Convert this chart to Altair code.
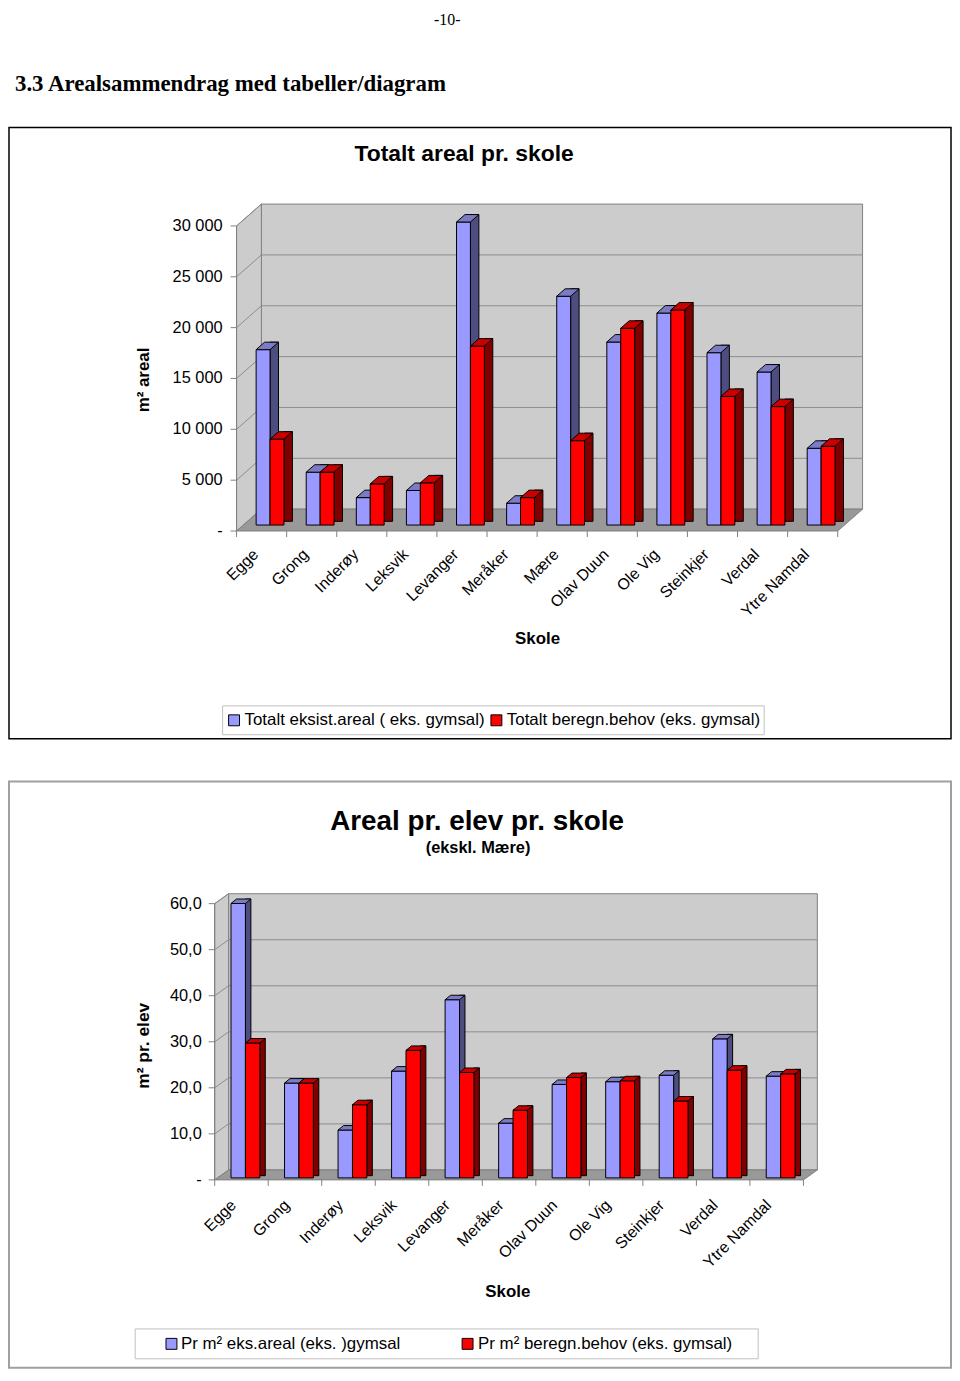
import altair as alt
import pandas as pd

# ---------------- data ----------------
schools_1 = ["Egge", "Grong", "Inderøy", "Leksvik", "Levanger", "Meråker", "Mære",
             "Olav Duun", "Ole Vig", "Steinkjer", "Verdal", "Ytre Namdal"]
eksist_areal = [17250, 5200, 2700, 3400, 29800, 2150, 22500, 18000, 20850, 16950, 15050, 7550]
beregn_behov = [8450, 5200, 4050, 4150, 17600, 2700, 8300, 19350, 21150, 12650, 11650, 7750]
ticks_1 = [0, 5000, 10000, 15000, 20000, 25000, 30000]
tick_labels_1 = ["-", "5 000", "10 000", "15 000", "20 000", "25 000", "30 000"]
series_1 = ["Totalt eksist.areal ( eks. gymsal)", "Totalt beregn.behov (eks. gymsal)"]

schools_2 = ["Egge", "Grong", "Inderøy", "Leksvik", "Levanger", "Meråker",
             "Olav Duun", "Ole Vig", "Steinkjer", "Verdal", "Ytre Namdal"]
pr_elev_eksist = [59.6, 20.6, 10.4, 23.2, 38.7, 11.9, 20.3, 20.9, 22.3, 30.2, 22.1]
pr_elev_behov = [29.3, 20.6, 15.9, 27.7, 22.9, 14.7, 21.8, 21.1, 16.7, 23.4, 22.6]
ticks_2 = [0, 10, 20, 30, 40, 50, 60]
tick_labels_2 = ["-", "10,0", "20,0", "30,0", "40,0", "50,0", "60,0"]
series_2 = ["Pr m² eks.areal (eks. )gymsal", "Pr m² beregn.behov (eks. gymsal)"]

page_number = "-10-"
heading = "3.3 Arealsammendrag med tabeller/diagram"

# ---------------- style ----------------
FONT = "Liberation Sans"
SERIF = "Liberation Serif"
BLUE = dict(front="#9999FF", side="#4D4D80", top="#7B7BC6")
RED = dict(front="#FF0000", side="#800000", top="#C80000")
WALL = "#CCCCCC"
FLOOR = "#999999"
EDGE = "#808080"
GRID = "#8C8C8C"
AXIS = "#808080"
PAGE_W = 950


def txt(s, x, y, size, bold=False, angle=0, align="center", font=FONT):
    return alt.Chart(pd.DataFrame({"t": [s]})).mark_text(
        fontSize=size, fontWeight="bold" if bold else "normal", angle=angle,
        align=align, baseline="middle", font=font, color="black"
    ).encode(x=alt.value(x), y=alt.value(y), text="t:N")


def box(x0, y0, x1, y1, fill, stroke, sw):
    return alt.Chart(pd.DataFrame({"k": [0]})).mark_rect(
        fill=fill, stroke=stroke, strokeWidth=sw
    ).encode(x=alt.value(x0), x2=alt.value(x1), y=alt.value(y0), y2=alt.value(y1))


def panel(schools, v1, v2, ticks, tick_labels, series, g):
    df = pd.DataFrame({"school": schools, "a": v1, "b": v2, "zero": [0] * len(schools)})
    tick_df = pd.DataFrame({"v": ticks, "label": tick_labels})
    wall = pd.DataFrame({"lo": [0], "hi": [ticks[-1]]})
    x0, x1, yb, yt = g["x0"], g["x1"], g["yb"], g["yt"]
    wdx, wdy = g["wdx"], g["wdy"]
    W, H = x1 - x0, yb - yt
    xs = alt.Scale(domain=schools, range=[x0, x1], paddingInner=0, paddingOuter=0)
    ys = alt.Scale(domain=[0, ticks[-1]], range=[yb, yt], nice=False, zero=False)
    X = alt.X("school:N", scale=xs, axis=None)

    def Y(f):
        return alt.Y(f, scale=ys, axis=None)

    layers = []
    layers.append(box(*g["box"], "white", g["box_stroke"], g["box_sw"]))
    # back wall
    layers.append(alt.Chart(wall).mark_rect(fill=WALL, stroke=EDGE, strokeWidth=1,
                                            yOffset=wdy, y2Offset=wdy).encode(
        x=alt.value(x0 + wdx), x2=alt.value(x1 + wdx), y=Y("hi:Q"), y2="lo:Q"))
    # left wall
    layers.append(alt.Chart(wall).mark_point(
        shape=f"M0,0 L0,{-H} L{wdx},{-H + wdy} L{wdx},{wdy} Z", size=4, filled=True,
        fill=WALL, stroke=EDGE, strokeWidth=1, opacity=1).encode(
        x=alt.value(x0), y=Y("lo:Q")))
    # floor
    layers.append(alt.Chart(wall).mark_point(
        shape=f"M0,0 L{W},0 L{W + wdx},{wdy} L{wdx},{wdy} Z", size=4, filled=True,
        fill=FLOOR, stroke=EDGE, strokeWidth=1, opacity=1).encode(
        x=alt.value(x0), y=Y("lo:Q")))
    # gridlines
    layers.append(alt.Chart(tick_df[(tick_df.v > 0) & (tick_df.v < ticks[-1])]).mark_rule(
        color=GRID, strokeWidth=1, yOffset=wdy).encode(
        x=alt.value(x0 + wdx), x2=alt.value(x1 + wdx), y=Y("v:Q")))
    layers.append(alt.Chart(tick_df[tick_df.v > 0]).mark_rule(
        color=GRID, strokeWidth=1, y2Offset=wdy).encode(
        x=alt.value(x0), x2=alt.value(x0 + wdx), y=Y("v:Q"), y2="v:Q"))
    # front axes
    layers.append(alt.Chart(wall).mark_rule(color=AXIS, strokeWidth=1).encode(
        x=alt.value(x0), y=Y("hi:Q"), y2="lo:Q"))
    layers.append(alt.Chart(tick_df).mark_rule(color=AXIS, strokeWidth=1).encode(
        x=alt.value(x0 - 6), x2=alt.value(x0), y=Y("v:Q")))
    layers.append(alt.Chart(tick_df).mark_text(
        align="right", baseline="middle", fontSize=g["tick_fs"], font=FONT, color="black").encode(
        x=alt.value(g["ylab_x"]), y=Y("v:Q"), text="label:N"))
    layers.append(alt.Chart(df).mark_rule(color=AXIS, strokeWidth=1).encode(
        x=alt.X("school:N", scale=xs, axis=None, bandPosition=0),
        y=alt.value(yb), y2=alt.value(yb + 6)))
    layers.append(alt.Chart(df.tail(1)).mark_rule(color=AXIS, strokeWidth=1).encode(
        x=alt.X("school:N", scale=xs, axis=None, bandPosition=1),
        y=alt.value(yb), y2=alt.value(yb + 6)))
    layers.append(alt.Chart(df).mark_text(
        angle=315, align="right", baseline="middle", fontSize=g["xlab_fs"], font=FONT,
        color="black", xOffset=g["xlab_dx"]).encode(
        x=X, y=alt.value(g["xlab_y"]), text="school:N"))

    # 3D bars
    gx, fs, bw, bdx, bdy = g["gx"], g["fs"], g["bw"], g["bdx"], g["bdy"]
    top_path = f"M0,0 L{bw},0 L{bw + bdx},{bdy} L{bdx},{bdy} Z"
    for field, col, left in (("a", BLUE, gx - bw), ("b", RED, gx)):
        layers.append(alt.Chart(df).mark_bar(
            width=bdx, fill=col["side"], stroke="black", strokeWidth=1,
            xOffset=left + bw + bdx / 2, yOffset=-fs + bdy, y2Offset=-fs + bdy / 2).encode(
            x=X, y=Y(f"{field}:Q"), y2="zero:Q"))
        layers.append(alt.Chart(df).mark_bar(
            width=bw, fill=col["front"], stroke="black", strokeWidth=1,
            xOffset=left + bw / 2, yOffset=-fs, y2Offset=-fs).encode(
            x=X, y=Y(f"{field}:Q"), y2="zero:Q"))
        layers.append(alt.Chart(df).mark_point(
            shape=top_path, size=4, filled=True, fill=col["top"], stroke="black",
            strokeWidth=1, opacity=1, xOffset=left, yOffset=-fs).encode(
            x=X, y=Y(f"{field}:Q")))

    # titles
    for t in g["texts"]:
        layers.append(txt(*t))
    # legend
    lx0, ly0, lx1, ly1 = g["legend_box"]
    layers.append(box(lx0, ly0, lx1, ly1, "white", "#C0C0C0", 1))
    for (sx, tx), col, name in zip(g["legend_items"], (BLUE, RED), series):
        cy = (ly0 + ly1) / 2
        layers.append(box(sx, cy - 5.5, sx + 11, cy + 5.5, col["front"], "black", 1))
        layers.append(txt(name, tx, cy, g["legend_fs"], align="left"))
    return alt.layer(*layers).properties(width=PAGE_W, height=g["height"])


# ---------------- header ----------------
header = alt.layer(
    txt(page_number, 442, 8, 16, font=SERIF),
    txt(heading, 7, 72, 23, bold=True, align="left", font=SERIF),
).properties(width=PAGE_W, height=115)

g1 = dict(
    height=617, box=(1, 1, 949, 616), box_stroke="black", box_sw=1.5,
    x0=230, x1=835, yb=407, yt=100, wdx=25, wdy=-22,
    gx=8.5, fs=6, bw=14, bdx=8.5, bdy=-7.5,
    tick_fs=16.5, ylab_x=216, xlab_fs=16, xlab_y=428, xlab_dx=-6,
    texts=[("Totalt areal pr. skole", 459, 28, 23, True),
           ("m² areal", 137, 255, 17, True, 270),
           ("Skole", 533, 516, 17, True)],
    legend_box=(216, 583, 761, 612), legend_items=[(222, 238), (486, 502)], legend_fs=17,
)
chart1 = panel(schools_1, eksist_areal, beregn_behov, ticks_1, tick_labels_1, series_1, g1)

g2 = dict(
    height=633, box=(1, 42, 949, 632), box_stroke="#A0A0A0", box_sw=2,
    x0=208, x1=800.5, yb=443, yt=165, wdx=14, wdy=-10,
    gx=4, fs=2, bw=14.5, bdx=5.5, bdy=-4.5,
    tick_fs=16.5, ylab_x=195, xlab_fs=16, xlab_y=466, xlab_dx=-8,
    texts=[("Areal pr. elev pr. skole", 472, 83, 28, True),
           ("(ekskl. Mære)", 473, 109, 16.5, True),
           ("m² pr. elev", 137, 308, 17.5, True, 270),
           ("Skole", 503, 556, 17, True)],
    legend_box=(128, 593, 755, 623), legend_items=[(159, 174), (457, 473)], legend_fs=17,
)
chart2 = panel(schools_2, pr_elev_eksist, pr_elev_behov, ticks_2, tick_labels_2, series_2, g2)

chart = alt.vconcat(header, chart1, chart2, spacing=0).properties(
    padding=0, background="white"
).configure_view(strokeWidth=0)

chart.save("out.html", embed_options={"renderer": "svg", "actions": False})
